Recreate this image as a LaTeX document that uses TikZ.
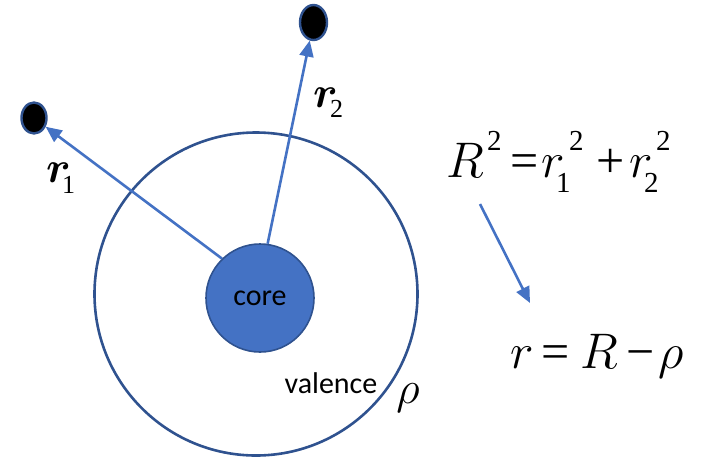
\RequirePackage{fix-cm}
\documentclass[tikz,border=0pt]{standalone}
\usepackage{bm}
\usepackage{fontspec}
\setmainfont{Liberation Serif}
\newfontfamily\timesfont{Liberation Serif}
\newfontfamily\calfont{Carlito}
\usetikzlibrary{arrows.meta,shapes.geometric}
\definecolor{edgeblue}{HTML}{2F528F}
\definecolor{fillblue}{HTML}{4472C4}
\newcommand\putat[2]{\rlap{\hspace*{#1pt}#2}}
\newcommand\scr[2]{\raisebox{#1pt}{\fontsize{29}{29}\selectfont #2}}
\tikzset{
  ring/.style={circle, draw=edgeblue, line width=2.6pt, inner sep=0pt},
  corestyle/.style={circle, draw=edgeblue, fill=fillblue, line width=1.6pt, inner sep=0pt,
    font=\calfont\fontsize{30}{36}\selectfont},
  dotstyle/.style={ellipse, draw=edgeblue, fill=black, line width=2.4pt, inner sep=0pt},
  arrowline/.style={draw=fillblue, line width=2.6pt, -{Triangle[length=16pt,width=14pt]}},
  eqstyle/.style={anchor=base west, inner sep=0pt, font=\timesfont\fontsize{50}{60}\selectfont},
  rlabel/.style={anchor=base west, inner sep=0pt, font=\timesfont\fontsize{44}{44}\selectfont},
}
\begin{document}
\begin{tikzpicture}[x=1pt,y=-1pt]
\path[use as bounding box] (0,0) rectangle (713,459);
\node[ring, minimum size=323pt] (valence) at (256,294) {};
\node[corestyle, minimum size=108pt] (core) at (260,298) {core};
\node[dotstyle, minimum width=25pt, minimum height=31pt] (dot1) at (34,118) {};
\node[dotstyle, minimum width=27pt, minimum height=35pt] (dot2) at (313.5,22.5) {};
\draw[arrowline] (core.134) -- (dot1);
\draw[arrowline] (core.82) -- (dot2);
\node[rlabel] (lr1) at (46,182) {\putat{0}{$\bm{r}$}\putat{16}{\raisebox{-11pt}{\fontsize{26}{26}\selectfont 1}}\hspace*{30pt}};
\node[rlabel] (lr2) at (313,107) {\putat{0}{$\bm{r}$}\putat{17}{\raisebox{-10pt}{\fontsize{26}{26}\selectfont 2}}\hspace*{31pt}};
\node[inner sep=0pt, font=\calfont\fontsize{30}{36}\selectfont] (val) at (331,383) {valence};
\node[inner sep=0pt, font=\fontsize{46}{46}\selectfont] (rho) at (408,398) {$\rho$};
\node[eqstyle] (eqa) at (446,177) {\putat{0}{$R$}\putat{41}{\scr{27}{2}}\putat{64}{=}\putat{95}{$r$}\putat{110}{\scr{-15}{1}}\putat{123}{\scr{27}{2}}\putat{150}{+}\putat{183}{$r$}\putat{198}{\scr{-15}{2}}\putat{210}{\scr{27}{2}}\hspace*{226pt}};
\node[eqstyle] (eqb) at (510,368) {\putat{0}{$r$}\putat{31}{=}\putat{70}{$R$}\putat{116}{−}\putat{148}{$\rho$}\hspace*{180pt}};
\coordinate (a1) at (480,204);
\coordinate (a2) at (530,303);
\draw[arrowline] (a1) -- (a2);
\end{tikzpicture}
\end{document}
